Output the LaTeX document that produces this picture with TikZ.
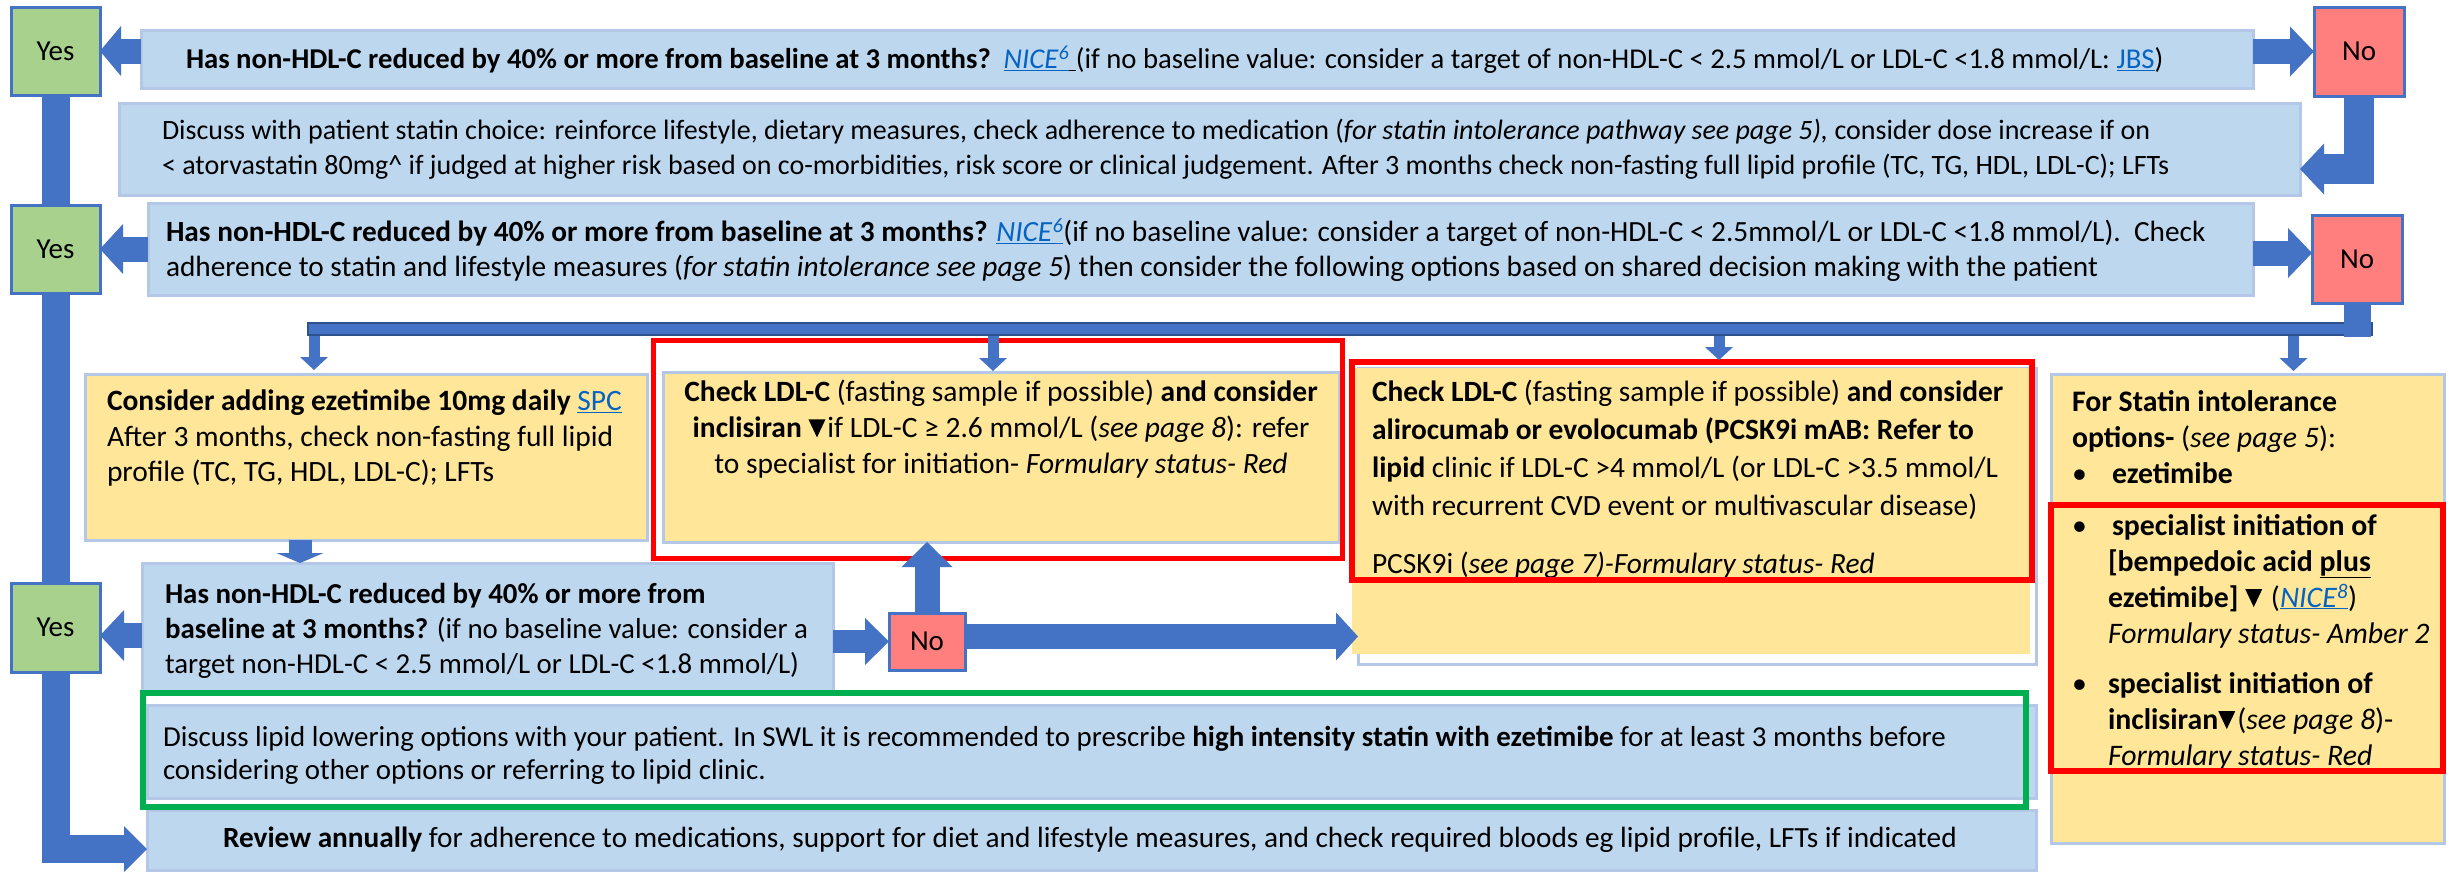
\documentclass[tikz,border=0pt]{standalone}
\usepackage{fontspec}
\setmainfont{Carlito}
\usetikzlibrary{arrows.meta,calc}

\definecolor{boxblue}{HTML}{BDD7EE}
\definecolor{boxedge}{HTML}{B4C7E7}
\definecolor{yesgreen}{HTML}{A9D18E}
\definecolor{nored}{HTML}{FF7F7F}
\definecolor{flowblue}{HTML}{4472C4}
\definecolor{flowedge}{HTML}{2F528F}
\definecolor{noteyellow}{HTML}{FFE699}
\definecolor{alertred}{HTML}{FF0000}
\definecolor{okgreen}{HTML}{00B050}
\definecolor{linkblue}{HTML}{0563C1}

\newcommand{\lnk}[1]{\textcolor{linkblue}{\underline{#1}}}
% black down-pointing triangle (black triangle symbol)
\newcommand{\downtri}{\tikz[baseline=0pt,x=1pt,y=1pt]\fill (0,18) -- (17,18) -- (8.5,0) -- cycle;\hspace{2pt}}
\newcommand{\itembul}[1]{\makebox[#1][l]{•}}
\newcommand{\itemcont}{\hspace*{36pt}}

\begin{document}
\begin{tikzpicture}[x=1pt,y=-1pt,
  every node/.style={inner sep=0pt, outer sep=0pt},
  panel/.style={anchor=north west, line width=3pt, draw=boxedge},
  bluebox/.style={panel, fill=boxblue},
  yellowbox/.style={panel, fill=noteyellow},
  answer/.style={anchor=north west, line width=3pt, draw=flowblue, font=\fontsize{29}{29}\selectfont},
  yesbox/.style={answer, fill=yesgreen},
  nobox/.style={answer, fill=nored},
  body/.style={align=left, font=\fontsize{29}{35}\selectfont},
  alert/.style={draw=alertred, line width=5pt},
  flow/.style={draw=flowblue, line width=#1},
  arrowhd/.style 2 args={-{Triangle[length=#1,width=#2,line width=0pt]}},
]
\fill[white] (0,0) rectangle (2451,871);
\useasboundingbox (0,0) rectangle (2451,871);

% ---------- answer boxes ----------
\node[yesbox, minimum width=89pt, minimum height=88pt] (yes1) at (11,7) {Yes};
\node[nobox,  minimum width=90pt, minimum height=89pt] (no1) at (2314,7) {No};
\node[yesbox, minimum width=89pt, minimum height=88pt] (yes2) at (11,205) {Yes};
\node[nobox,  minimum width=90pt, minimum height=88pt] (no2) at (2312,215) {No};
\node[yesbox, minimum width=89pt, minimum height=89pt] (yes3) at (11,583) {Yes};
\node[nobox,  minimum width=76pt, minimum height=57pt] (no3) at (889,613) {No};

% ---------- question and information boxes ----------
\node[bluebox, minimum width=2112pt, minimum height=58pt] (q1) at (141,30) {};
\node[body, anchor=west, font=\fontsize{28.7}{35}\selectfont] (q1t) at ($(q1.west)+(45,1)$)
 {\textbf{Has non-HDL-C reduced by 40\% or more from baseline at 3 months?}\ \ \lnk{\textit{NICE}\textsuperscript{\textit{6}}}\underline{\ }(if no baseline value: consider a target of non-HDL-C < 2.5 mmol/L or LDL-C <1.8 mmol/L: \lnk{JBS})};

\node[bluebox, minimum width=2181pt, minimum height=92pt] (adhere) at (119,103) {};
\node[body, anchor=west, font=\fontsize{28}{35}\selectfont] (adheret) at ($(adhere.west)+(43,0)$)
 {Discuss with patient statin choice: reinforce lifestyle, dietary measures, check adherence to medication (\textit{for statin intolerance pathway see page 5),} consider dose increase if on\\
  < atorvastatin 80mg\textasciicircum{} if judged at higher risk based on co-morbidities, risk score or clinical judgement. After 3 months check non-fasting full lipid profile (TC, TG, HDL, LDL-C); LFTs};

\node[bluebox, minimum width=2105pt, minimum height=92pt] (q2) at (148,203) {};
\node[body, anchor=west, font=\fontsize{29.3}{35}\selectfont] (q2t) at ($(q2.west)+(18,1)$)
 {\textbf{Has non-HDL-C reduced by 40\% or more from baseline at 3 months?} \lnk{\textit{NICE}\textsuperscript{\textit{6}}}(if no baseline value: consider a target of non-HDL-C < 2.5mmol/L or LDL-C <1.8 mmol/L).\ \ Check\\
  adherence to statin and lifestyle measures (\textit{for statin intolerance see page 5}) then consider the following options based on shared decision making with the patient};

\node[yellowbox, minimum width=562pt, minimum height=166pt] (eze) at (85,374) {};
\node[body, anchor=west, font=\fontsize{29.5}{35.5}\selectfont] (ezet) at ($(eze.north west)+(22,64)$)
 {\textbf{Consider adding ezetimibe 10mg daily} \lnk{SPC}\\
  After 3 months, check non-fasting full lipid\\
  profile (TC, TG, HDL, LDL-C); LFTs};

\node[yellowbox, minimum width=676pt, minimum height=170pt] (incl) at (663,372) {};
\node[body, align=center, anchor=center, font=\fontsize{29.5}{36}\selectfont] (inclt) at ($(incl.north)+(0,57)$)
 {\textbf{Check LDL-C} (fasting sample if possible) \textbf{and consider}\\
  \textbf{inclisiran} \downtri if LDL-C ≥ 2.6 mmol/L (\textit{see page 8}): refer\\
  to specialist for initiation- \textit{Formulary status- Red}};

\node[panel, fill=white, minimum width=678pt, minimum height=296pt] (pcskframe) at (1358,368) {};
\node[anchor=north west, fill=noteyellow, minimum width=678pt, minimum height=286pt] (pcsk) at (1352,368) {};
\node[body, anchor=west, font=\fontsize{29.4}{38}\selectfont] (pcskt) at ($(pcsk.north west)+(20,82)$)
 {\textbf{Check LDL-C} (fasting sample if possible) \textbf{and consider}\\
  \textbf{alirocumab or evolocumab (PCSK9i mAB: Refer to}\\
  \textbf{lipid} clinic if LDL-C >4 mmol/L (or LDL-C >3.5 mmol/L\\
  with recurrent CVD event or multivascular disease)};
\node[body, anchor=west, font=\fontsize{29.4}{38}\selectfont] (pcskstatus) at ($(pcsk.north west)+(20,197)$)
 {PCSK9i (\textit{see page 7)-Formulary status- Red}};

\node[yellowbox, minimum width=393pt, minimum height=469pt] (statin) at (2051,374) {};
\node[body, anchor=west, font=\fontsize{29.8}{36}\selectfont] (statint) at ($(statin.north west)+(21,206)$)
 {\textbf{For Statin intolerance}\\
  \textbf{options-} (\textit{see page 5}):\\
  \itembul{40pt}\textbf{ezetimibe}\\[16pt]
  \itembul{40pt}\textbf{specialist initiation of}\\
  \itemcont\textbf{[bempedoic acid \underline{plus}}\\
  \itemcont\textbf{ezetimibe]} \downtri\ (\lnk{\textit{NICE}\textsuperscript{\textit{8}}})\\
  \itemcont\textit{Formulary status- Amber 2}\\[14pt]
  \itembul{36pt}\textbf{specialist initiation of}\\
  \itemcont\textbf{inclisiran}\downtri(\textit{see page 8})-\\
  \itemcont\textit{Formulary status- Red}};

\node[bluebox, minimum width=691pt, minimum height=129pt] (q3) at (142,563) {};
\node[body, anchor=west, font=\fontsize{28.9}{35}\selectfont] (q3t) at ($(q3.west)+(23,3)$)
 {\textbf{Has non-HDL-C reduced by 40\% or more from}\\
  \textbf{baseline at 3 months?} (if no baseline value: consider a\\
  target non-HDL-C < 2.5 mmol/L or LDL-C <1.8 mmol/L)};

\node[bluebox, minimum width=1889pt, minimum height=93pt] (advice) at (147,705) {};
\node[body, anchor=west, font=\fontsize{28.9}{33}\selectfont] (advicet) at ($(advice.west)+(16,4)$)
 {Discuss lipid lowering options with your patient. In SWL it is recommended to prescribe \textbf{high intensity statin with ezetimibe} for at least 3 months before\\
  considering other options or referring to lipid clinic.};

\node[bluebox, minimum width=1889pt, minimum height=60pt] (review) at (147,810) {};
\node[body, anchor=west, font=\fontsize{29.3}{35}\selectfont] (reviewt) at ($(review.west)+(76,0)$)
 {\textbf{Review annually} for adherence to medications, support for diet and lifestyle measures, and check required bloods eg lipid profile, LFTs if indicated};

% ---------- highlight frames ----------
\draw[alert] (653,340) rectangle (1342,558);
\draw[alert, line width=6pt] (1352,362) rectangle (2032,580);
\draw[alert, line width=6pt] (2051,505) rectangle (2443,771);
\draw[okgreen, line width=6pt] (143,693) rectangle (2026,807);

% ---------- connectors ----------
\draw[flow=25pt, arrowhd={21pt}{50pt}] (q1.west |- yes1.east) -- (yes1.east);
\draw[flow=25pt, arrowhd={24pt}{50pt}] (q1.east |- no1.west) -- (no1.west);
\coordinate (adherein) at ($(adhere.east)+(0,20)$);
\draw[flow=30pt, arrowhd={24pt}{51pt}, line join=miter] (no1.south) |- (adherein);

\draw[flow=25pt, arrowhd={23pt}{50pt}] (q2.west |- yes2.east) -- (yes2.east);
\coordinate (no2in) at ($(no2.west)+(0,-6)$);
\draw[flow=25pt, arrowhd={24pt}{50pt}] (no2in -| q2.east) -- (no2in);

\draw[flow=28pt] (yes1.south) -- (yes2.north);
\draw[flow=28pt] (yes2.south) -- (yes3.north);
\coordinate (reviewin) at ($(review.west)+(0,9)$);
\draw[flow=28pt, arrowhd={23pt}{46pt}, line join=miter] (yes3.south) |- (reviewin);

% distribution bar below the second "No"
\coordinate (bus) at ($(no2.south)+(0,26)$);
\coordinate (d1) at ($(eze.north west)+(229,-4)$);
\coordinate (d2) at ($(incl.north)+(-8,-1)$);
\coordinate (d3) at ($(pcsk.north)+(28,-8)$);
\coordinate (d4) at ($(statin.north)+(46,-3)$);
\foreach \d in {d1,d2,d3,d4}
  \draw[flow=11pt, arrowhd={13pt}{28pt}] (\d |- bus) -- (\d);
\draw[flowedge, line width=14pt] ($(d1 |- bus)+(-7,0)$) -- ($(bus)+(16,0)$);
\draw[flowblue, line width=10pt] ($(d1 |- bus)+(-5,0)$) -- ($(bus)+(14,0)$);
\draw[flow=27pt] (no2.south) -- ($(bus)+(0,8)$);

\coordinate (ezeout) at ($(eze.south west)+(215,0)$);
\draw[flow=23pt, arrowhd={10pt}{47pt}] (ezeout) -- (ezeout |- q3.north);

\coordinate (yes3in) at ($(yes3.east)+(0,8)$);
\draw[flow=25pt, arrowhd={24pt}{51pt}] (yes3in -| q3.west) -- (yes3in);
\draw[flow=23pt, arrowhd={24pt}{47pt}] (q3.east |- no3.west) -- (no3.west);
\draw[flow=25pt, arrowhd={25pt}{51pt}] (no3.north) -- (no3.north |- incl.south);
\coordinate (no3out) at ($(no3.east)+(0,-5)$);
\draw[flow=25pt, arrowhd={22pt}{48pt}] (no3out) -- (no3out -| pcskframe.west);
\end{tikzpicture}
\end{document}
